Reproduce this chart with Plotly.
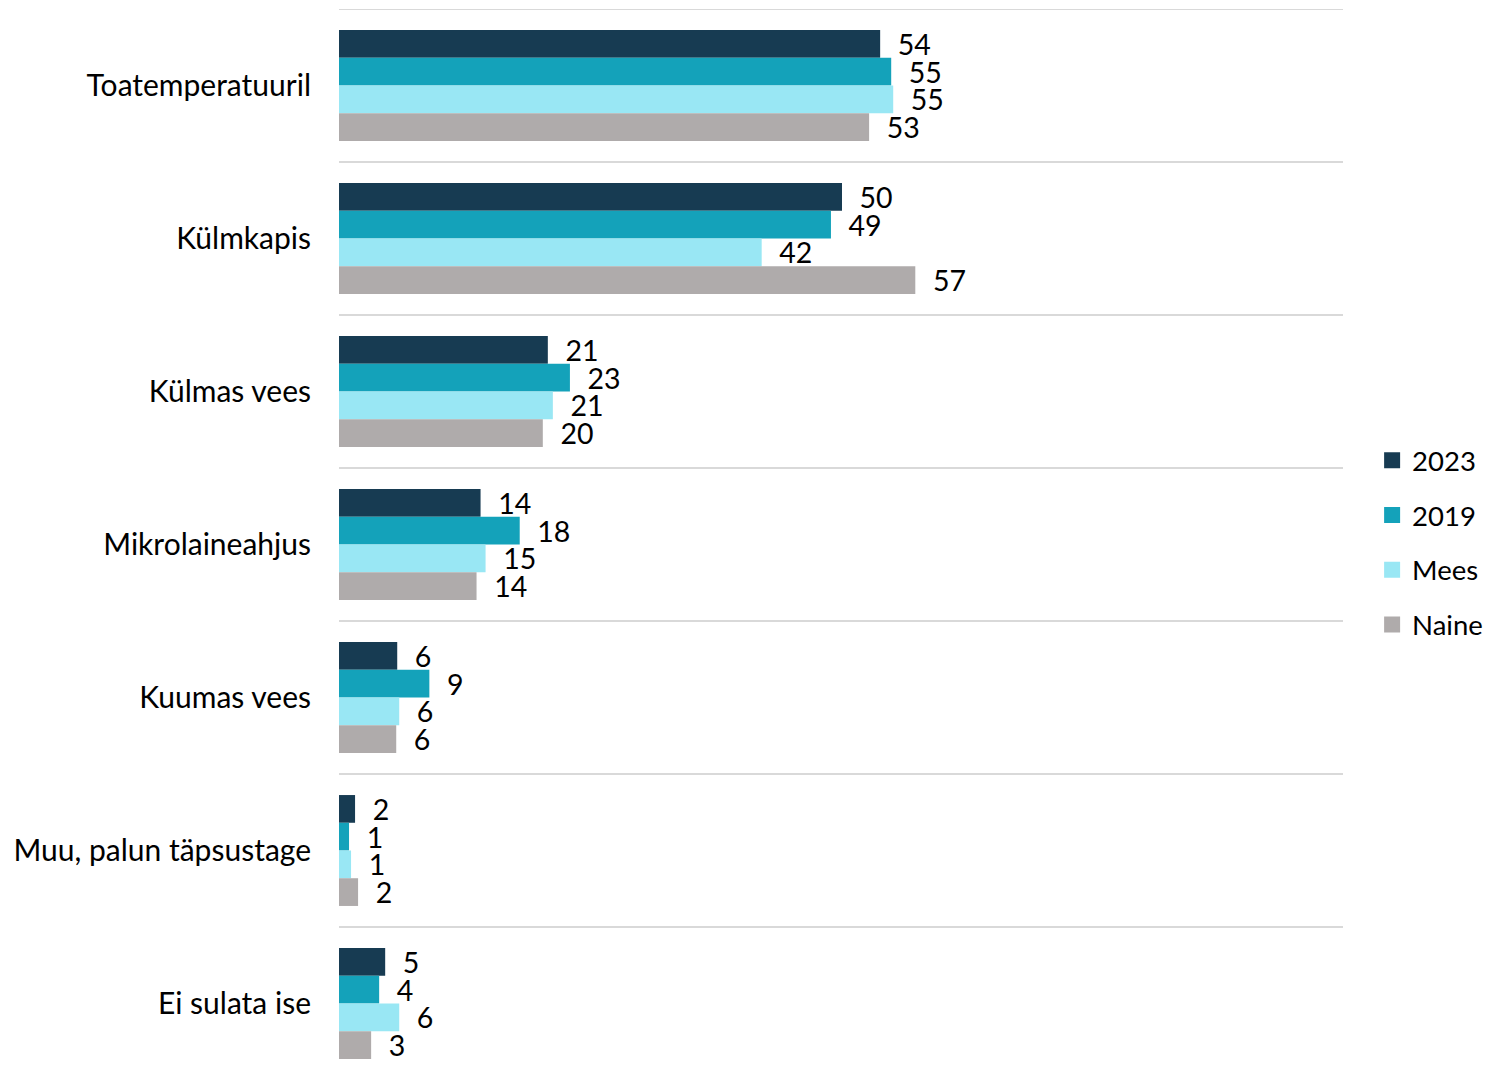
import plotly.graph_objects as go

categories = ["Toatemperatuuril", "Külmkapis", "Külmas vees", "Mikrolaineahjus",
              "Kuumas vees", "Muu, palun täpsustage", "Ei sulata ise"]
series_names = ["2023", "2019", "Mees", "Naine"]
values_2023 = [53.9, 50.1, 20.8, 14.1, 5.8, 1.6, 4.6]
values_2019 = [55.0, 49.0, 23.0, 18.0, 9.0, 1.0, 4.0]
values_mees = [55.2, 42.1, 21.3, 14.6, 6.0, 1.2, 6.0]
values_naine = [52.8, 57.4, 20.3, 13.7, 5.7, 1.9, 3.2]
colors = ["#173b52", "#14a2ba", "#99e7f4", "#afabab"]

all_values = [values_2023, values_2019, values_mees, values_naine]
FONT = "Lato, Calibri, sans-serif"

fig = go.Figure()
n = len(categories)
ypos = list(range(n))
for name, vals, col in zip(series_names, all_values, colors):
    fig.add_trace(go.Bar(
        y=ypos, x=vals, orientation="h", name=name,
        marker=dict(color=col, line=dict(width=0)),
        texttemplate="\u00a0\u00a0%{x:.0f}", textposition="outside",
        constraintext="none", cliponaxis=False,
        textfont=dict(family=FONT, size=28.5, color="#000000"),
        showlegend=False, hoverinfo="skip",
    ))
    fig.add_trace(go.Scatter(
        x=[None], y=[None], mode="markers", name=name, legendgroup=name,
        marker=dict(symbol="square", size=16, color=col),
        showlegend=True,
    ))

# separator lines between categories
for i in range(n):
    fig.add_shape(type="line", xref="paper", x0=0, x1=1, yref="y",
                  y0=i - 0.5, y1=i - 0.5, layer="below",
                  line=dict(color="#d9d9d9", width=2))

fig.update_layout(
    width=1491, height=1075,
    margin=dict(l=331, r=156, t=1, b=3),
    paper_bgcolor="white", plot_bgcolor="white",
    barmode="group", bargap=0.275, bargroupgap=0,
    font=dict(family=FONT, size=28.5, color="#000000"),
    legend=dict(x=1.029, xanchor="left", y=0.502, yanchor="middle",
                font=dict(family=FONT, size=27.5, color="#000000"),
                tracegroupgap=16, traceorder="grouped", itemwidth=30),
    xaxis=dict(visible=False, range=[0, 100]),
    yaxis=dict(
        range=[n - 0.5, -0.5],
        tickmode="array", tickvals=ypos, ticktext=categories,
        showgrid=False, zeroline=False, showline=False, ticks="",
        ticklabelstandoff=27,
        tickfont=dict(family=FONT, size=30, color="#000000"),
    ),
)

fig.write_html("out.html")
